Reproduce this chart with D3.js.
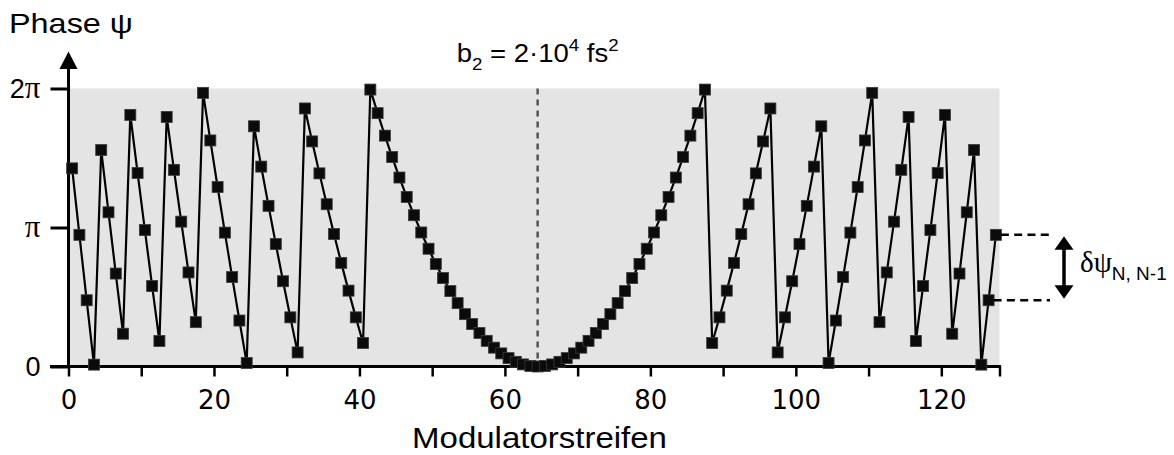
<!DOCTYPE html>
<html>
<head>
<meta charset="utf-8">
<script src="https://cdn.jsdelivr.net/npm/d3@7/dist/d3.min.js"></script>
<style>
  body { margin: 0; background: #fff; }
  svg { display: block; }
</style>
</head>
<body>
<svg id="chart" width="1174" height="455"></svg>
<script>
// Modulator stripes (0 … 127) and the wrapped spectral phase on each stripe, in radians
const stripes = d3.range(128);
const phase = [
  4.478, 2.976, 1.497, 0.042, 4.893, 3.485, 2.101, 0.741, 5.687, 4.374,
  3.084, 1.818, 0.576, 5.640, 4.445, 3.274, 2.126, 1.002, 6.185, 5.109,
  4.056, 3.026, 2.021, 1.039, 0.080, 5.429, 4.518, 3.631, 2.767, 1.927,
  1.111, 0.318, 5.832, 5.087, 4.365, 3.667, 2.993, 2.342, 1.715, 1.111,
  0.532, 6.259, 5.726, 5.218, 4.733, 4.271, 3.833, 3.419, 3.029, 2.662,
  2.319, 1.999, 1.704, 1.432, 1.183, 0.958, 0.757, 0.580, 0.426, 0.296,
  0.189, 0.106, 0.047, 0.012, 0.000, 0.012, 0.047, 0.106, 0.189, 0.296,
  0.426, 0.580, 0.757, 0.958, 1.183, 1.432, 1.704, 1.999, 2.319, 2.662,
  3.029, 3.419, 3.833, 4.271, 4.733, 5.218, 5.726, 6.259, 0.532, 1.111,
  1.715, 2.342, 2.993, 3.667, 4.365, 5.087, 5.832, 0.318, 1.111, 1.927,
  2.767, 3.631, 4.518, 5.429, 0.080, 1.039, 2.021, 3.026, 4.056, 5.109,
  6.185, 1.002, 2.126, 3.274, 4.445, 5.640, 0.576, 1.818, 3.084, 4.374,
  5.687, 0.741, 2.101, 3.485, 4.893, 0.042, 1.497, 2.976
];

// Axis ticks
const xTickValues = [0, 10, 20, 30, 40, 50, 60, 70, 80, 90, 100, 110, 120, 128];
const xTickLabels = [0, 20, 40, 60, 80, 100, 120];
const yTickValues = [0, Math.PI, 2 * Math.PI];
const yTickLabels = [["0", ""], ["", "π"], ["2", "π"]];
const vertexStripe = 64;

const svg = d3.select("#chart");

const x = d3.scaleLinear().domain([0, 128]).range([68.5, 999.5]);
const y = d3.scaleLinear().domain([0, 2 * Math.PI]).range([366.5, 88.5]);
const cx = i => x(i + 0.5);   // a stripe's mark sits in the middle of the stripe

// Horizontally stretched text
function stext(parent, tx, ty, sx, anchor) {
  return parent.append("g")
    .attr("transform", `translate(${tx},${ty})`)
    .append("text")
    .attr("transform", `scale(${sx},1)`)
    .attr("text-anchor", anchor || "start");
}

// Plot background, 0 … 2π
svg.append("rect")
  .attr("x", x(0)).attr("y", y(2 * Math.PI))
  .attr("width", x(128) - x(0)).attr("height", y(0) - y(2 * Math.PI))
  .attr("fill", "#e4e4e4");

// Vertex of the quadratic phase
svg.append("line")
  .attr("x1", cx(vertexStripe)).attr("x2", cx(vertexStripe))
  .attr("y1", y(2 * Math.PI)).attr("y2", y(0))
  .attr("stroke", "#555").attr("stroke-width", 2.5)
  .attr("stroke-dasharray", "6,5");

// X axis
const xAxis = d3.axisBottom(x)
  .tickValues(xTickValues)
  .tickSize(10)
  .tickPadding(14)
  .tickFormat(d => xTickLabels.includes(d) ? d : "");
const gx = svg.append("g").attr("transform", `translate(0,${y(0)})`).call(xAxis);
gx.select(".domain").remove();
gx.selectAll(".tick line").attr("stroke", "#000").attr("stroke-width", 2.5);
gx.selectAll(".tick text")
  .attr("font-family", "DejaVu Sans, Verdana, sans-serif")
  .attr("font-size", 26).attr("fill", "#000");
svg.append("line")
  .attr("x1", 50).attr("x2", x(128) + 1.5)
  .attr("y1", y(0)).attr("y2", y(0))
  .attr("stroke", "#000").attr("stroke-width", 3);

// Y axis
const yAxis = d3.axisLeft(y).tickValues(yTickValues).tickSize(18).tickFormat("");
const gy = svg.append("g").attr("transform", `translate(${x(0)},0)`).call(yAxis);
gy.select(".domain").remove();
gy.selectAll(".tick line").attr("stroke", "#000").attr("stroke-width", 3);
gy.selectAll(".tick").each(function (d, i) {
  const t = d3.select(this).append("text")
    .attr("x", -28).attr("dy", "0.34em")
    .attr("text-anchor", "end").attr("fill", "#000")
    .attr("font-size", 27);
  const [num, sym] = yTickLabels[i];
  if (num) t.append("tspan").attr("font-family", "Liberation Sans, Arial, sans-serif").text(num);
  if (sym) t.append("tspan").attr("font-family", "Liberation Serif, Times New Roman, serif").attr("font-size", 31).text(sym);
});
svg.append("line")
  .attr("x1", x(0)).attr("x2", x(0))
  .attr("y1", y(0) + 1.5).attr("y2", 66)
  .attr("stroke", "#000").attr("stroke-width", 3);
svg.append("path")
  .attr("d", `M${x(0)},51.5 L${x(0) - 9},69 L${x(0) + 9},69 Z`)
  .attr("fill", "#000");

// Phase curve and markers
const line = d3.line().x(i => cx(i)).y(i => y(phase[i]));
svg.append("path")
  .datum(stripes)
  .attr("d", line)
  .attr("fill", "none").attr("stroke", "#000").attr("stroke-width", 2.2);
svg.append("g").selectAll("rect")
  .data(stripes)
  .join("rect")
  .attr("x", i => cx(i) - 5.5).attr("y", i => y(phase[i]) - 5.5)
  .attr("width", 11).attr("height", 11)
  .attr("fill", "#0b0b0b").attr("stroke", "#3a3a3a").attr("stroke-width", 0.8);

// Phase step between the last two stripes
const last = stripes.length - 1;
const yA = y(phase[last]), yB = y(phase[last - 1]);
[[cx(last) + 5, yA], [cx(last - 1) + 5, yB]].forEach(([x0, yy]) => {
  svg.append("line")
    .attr("x1", x0).attr("x2", 1050).attr("y1", yy).attr("y2", yy)
    .attr("stroke", "#000").attr("stroke-width", 2.5)
    .attr("stroke-dasharray", "8,5.3");
});
const ax = 1064;
svg.append("line")
  .attr("x1", ax).attr("x2", ax).attr("y1", yA + 12).attr("y2", yB - 12)
  .attr("stroke", "#000").attr("stroke-width", 3.5);
svg.append("path")
  .attr("d", `M${ax},${yA + 1.5} L${ax - 9.5},${yA + 15} L${ax + 9.5},${yA + 15} Z`)
  .attr("fill", "#000");
svg.append("path")
  .attr("d", `M${ax},${yB - 1.5} L${ax - 9.5},${yB - 15} L${ax + 9.5},${yB - 15} Z`)
  .attr("fill", "#000");
const dl = svg.append("text").attr("x", 1080).attr("y", 272).attr("fill", "#000");
dl.append("tspan").attr("font-family", "Liberation Serif, Times New Roman, serif")
  .attr("font-size", 29).text("δψ");
dl.append("tspan").attr("font-family", "Liberation Sans, Arial, sans-serif")
  .attr("font-size", 19).attr("dy", 8).text("N, N-1");

// Titles
stext(svg, 9, 33, 1.2)
  .attr("font-family", "Liberation Sans, Arial, sans-serif")
  .attr("font-size", 27).attr("fill", "#000")
  .text("Phase ψ");

stext(svg, 539.5, 448, 1.1, "middle")
  .attr("font-family", "Liberation Sans, Arial, sans-serif")
  .attr("font-size", 30).attr("fill", "#000")
  .text("Modulatorstreifen");

const b2 = stext(svg, cx(vertexStripe), 61.5, 1.1, "middle")
  .attr("font-family", "Liberation Sans, Arial, sans-serif")
  .attr("font-size", 25).attr("fill", "#000");
b2.append("tspan").text("b");
b2.append("tspan").attr("font-size", 17).attr("dy", 8).text("2");
b2.append("tspan").attr("dy", -8).text(" = 2·10");
b2.append("tspan").attr("font-size", 17).attr("dy", -11).text("4");
b2.append("tspan").attr("dy", 11).text(" fs");
b2.append("tspan").attr("font-size", 17).attr("dy", -11).text("2");
</script>
</body>
</html>
